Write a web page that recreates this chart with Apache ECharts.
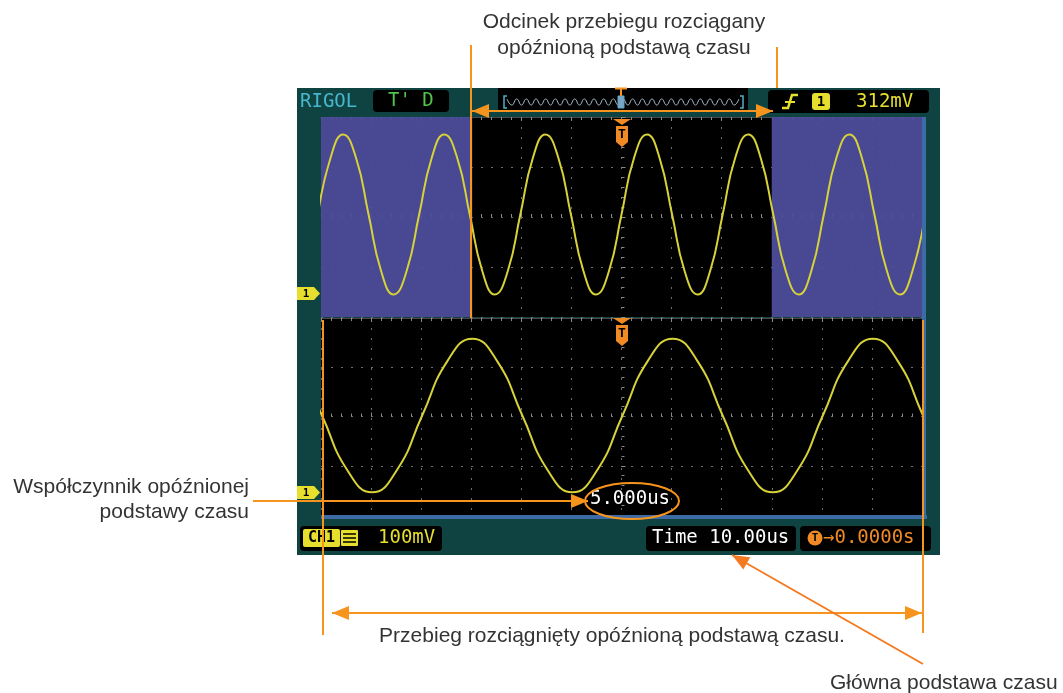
<!DOCTYPE html>
<html>
<head>
<meta charset="utf-8">
<script src="https://cdn.jsdelivr.net/npm/echarts@6/dist/echarts.min.js"></script>
<style>
html, body { margin: 0; padding: 0; background: #fff; }
#main { width: 1063px; height: 693px; }
</style>
</head>
<body>
<div id="main"></div>
<script>
// górne okno (przebieg opóźniony) - czas w działkach od środka, napięcie w działkach
var upperTime = [-6.06, -5.81, -5.56, -5.30, -5.05, -4.80, -4.55, -4.29, -4.04, -3.79, -3.54, -3.28,
    -3.03, -2.78, -2.53, -2.27, -2.02, -1.77, -1.52, -1.26, -1.01, -0.76, -0.51, -0.25, 0,
    0.25, 0.51, 0.76, 1.01, 1.26, 1.52, 1.77, 2.02, 2.27, 2.53, 2.78, 3.03, 3.28, 3.54, 3.79,
    4.04, 4.29, 4.55, 4.80, 5.05, 5.30, 5.56, 5.81, 6.06];
var upperVolt = [0.05, 1.18, 1.65, 1.18, 0.05, -1.08, -1.55, -1.08,
    0.05, 1.18, 1.65, 1.18, 0.05, -1.08, -1.55, -1.08,
    0.05, 1.18, 1.65, 1.18, 0.05, -1.08, -1.55, -1.08,
    0.05, 1.18, 1.65, 1.18, 0.05, -1.08, -1.55, -1.08,
    0.05, 1.18, 1.65, 1.18, 0.05, -1.08, -1.55, -1.08,
    0.05, 1.18, 1.65, 1.18, 0.05, -1.08, -1.55, -1.08, 0.05];

// dolne okno (przebieg rozciągnięty)
var lowerTime = [-6.48, -5.98, -5.48, -4.98, -4.48, -3.98, -3.48, -2.98, -2.48, -1.98, -1.48, -0.98,
    -0.48, 0.02, 0.52, 1.02, 1.52, 2.02, 2.52, 3.02, 3.52, 4.02, 4.52, 5.02, 5.52, 6.02, 6.52];
var lowerVolt = [1.12, 0.02, -1.08, -1.54, -1.08, 0.02, 1.12, 1.58, 1.12, 0.02, -1.08, -1.54,
    -1.08, 0.02, 1.12, 1.58, 1.12, 0.02, -1.08, -1.54, -1.08, 0.02, 1.12, 1.58, 1.12, 0.02, -1.08];

// podgląd pamięci na górnym pasku
var overviewWave = [1, -1, 1, -1, 1, -1, 1, -1, 1, -1, 1, -1, 1, -1, 1, -1, 1, -1, 1, -1, 1, -1, 1, -1,
    1, -1, 1, -1, 1, -1, 1, -1, 1, -1, 1, -1, 1, -1, 1, -1, 1, -1, 1, -1, 1, -1, 1, -1, 1];

// zacienione części górnego okna
var shadeLeft = [-6, -2.98];
var shadeRight = [3.0, 6];

var upperData = upperTime.map(function (t, i) { return [t, upperVolt[i]]; });
var lowerData = lowerTime.map(function (t, i) { return [t, lowerVolt[i]]; });
var overviewData = overviewWave.map(function (v, i) { return [i, v]; });

var ORANGE = '#f7941d';
var YELLOW = '#e6df2e';
var TRACE = '#d8d23a';
var SCOPE_FONT = '19px "DejaVu Sans Mono", monospace';
var NOTE_FONT = '21px "Liberation Sans", Arial, sans-serif';

function txt(x, y, s, fill, font, align)
{
    align = align || 'left';
    return {type: 'text', z: 100, style: {x: x, y: y, text: s, fill: fill, font: font,
        textAlign: align, align: align, textVerticalAlign: 'middle', verticalAlign: 'middle'}};
}
function box(x, y, w, h, fill, r, z)
{
    return {type: 'rect', z: z == null ? 50 : z, shape: {x: x, y: y, width: w, height: h, r: r || 0}, style: {fill: fill}};
}
function seg(x1, y1, x2, y2, color, w)
{
    return {type: 'line', z: 100, shape: {x1: x1, y1: y1, x2: x2, y2: y2}, style: {stroke: color, lineWidth: w || 2}};
}
function poly(points, fill, z)
{
    return {type: 'polygon', z: z || 100, shape: {points: points}, style: {fill: fill}};
}
// grot strzałki: wierzchołek (tx,ty), kierunek od (fx,fy)
function head(tx, ty, fx, fy, color)
{
    var dx = tx - fx, dy = ty - fy, len = Math.sqrt(dx * dx + dy * dy);
    dx /= len; dy /= len;
    var L = 17, W = 7, bx = tx - dx * L, by = ty - dy * L;
    return poly([[tx, ty], [bx - dy * W, by + dx * W], [bx + dy * W, by - dx * W]], color);
}
function arrow(x1, y1, x2, y2, color, both)
{
    var out = [seg(x1, y1, x2, y2, color, 2), head(x2, y2, x1, y1, color)];
    if (both) out.push(head(x1, y1, x2, y2, color));
    return out;
}
function chanMarker(y)
{
    return [poly([[297, y - 6.5], [314, y - 6.5], [320, y], [314, y + 6.5], [297, y + 6.5]], YELLOW, 60),
        txt(306, y + 0.5, '1', '#000', 'bold 11px "DejaVu Sans Mono"', 'center')];
}
function trigMarker(t)
{
    return [poly([[613, t], [631, t], [622, t + 6]], '#f08a24', 60),
        poly([[616, t + 7], [628, t + 7], [628, t + 23], [622, t + 28], [616, t + 23]], '#f08a24', 60),
        txt(622, t + 16, 'T', '#000', 'bold 13px "DejaVu Sans Mono"', 'center')];
}

var elements = [
    box(297, 88, 643, 467, '#0f4341', 0, -10),
    box(321, 515, 606, 4, '#3d6ba6', 0, 5),
    box(922, 117, 4, 402, '#3d6ba6', 0, 5),

    // górny pasek
    txt(300, 102, 'RIGOL', '#47b6cf', SCOPE_FONT),
    box(373, 90, 76, 22, '#000', 4),
    txt(388, 101, "T' D", '#52c24b', SCOPE_FONT),
    box(498, 88, 250, 24, '#000', [0, 0, 4, 4], -5),
    {type: 'polyline', z: 60, shape: {points: [[507, 96], [504, 96], [504, 108], [507, 108]]}, style: {stroke: '#52b0c8', lineWidth: 1.5, fill: null}},
    {type: 'polyline', z: 60, shape: {points: [[740, 96], [743, 96], [743, 108], [740, 108]]}, style: {stroke: '#52b0c8', lineWidth: 1.5, fill: null}},
    {type: 'rect', z: 60, shape: {x: 618, y: 96, width: 6, height: 12}, style: {fill: '#7fa3c4', stroke: '#52b0c8'}},
    seg(615, 88.5, 627, 88.5, ORANGE, 2),
    seg(621, 88, 621, 96, ORANGE, 2),
    box(768, 90, 161, 23, '#000', 4),
    {type: 'polyline', z: 60, shape: {points: [[782, 108], [788, 108], [792, 95], [798, 95]]}, style: {stroke: YELLOW, lineWidth: 2.5, fill: null}},
    seg(785, 102, 795, 102, YELLOW, 2),
    box(812, 93, 18, 17, YELLOW, 3, 60),
    txt(821, 102, '1', '#000', 'bold 14px "DejaVu Sans Mono"', 'center'),
    txt(856, 102, '312mV', YELLOW, SCOPE_FONT),

    // dolny pasek
    box(300, 526, 142, 25, '#000', 4),
    box(303, 529, 37, 18, YELLOW, 2, 60),
    txt(321.5, 538, 'CH1', '#000', 'bold 15px "DejaVu Sans Mono"', 'center'),
    box(341, 530, 17, 16, YELLOW, 1, 60),
    seg(343, 534, 356, 534, '#000', 1.5),
    seg(343, 538, 356, 538, '#000', 1.5),
    seg(343, 542, 356, 542, '#000', 1.5),
    txt(378, 538, '100mV', YELLOW, SCOPE_FONT),
    box(646, 526, 150, 25, '#000', 4),
    txt(652, 538, 'Time 10.00us', '#fff', SCOPE_FONT),
    box(800, 526, 131, 25, '#000', 4),
    {type: 'circle', z: 60, shape: {cx: 815, cy: 538, r: 7.5}, style: {fill: '#f08a24'}},
    txt(815, 538.5, 'T', '#000', 'bold 11px "DejaVu Sans Mono"', 'center'),
    txt(823, 538, '\u21920.0000s', '#f08a24', SCOPE_FONT),

    // napis i elipsa na ekranie
    txt(630, 499, '5.000us', '#fff', SCOPE_FONT, 'center'),
    {type: 'ellipse', z: 100, shape: {cx: 632, cy: 501, rx: 47, ry: 18}, style: {fill: null, stroke: ORANGE, lineWidth: 2}},

    // opisy
    txt(624, 22, 'Odcinek przebiegu rozciągany', '#333', NOTE_FONT, 'center'),
    txt(624, 48, 'opóźnioną podstawą czasu', '#333', NOTE_FONT, 'center'),
    txt(249, 487, 'Współczynnik opóźnionej', '#333', NOTE_FONT, 'right'),
    txt(249, 512, 'podstawy czasu', '#333', NOTE_FONT, 'right'),
    txt(612, 636, 'Przebieg rozciągnięty opóźnioną podstawą czasu.', '#333', NOTE_FONT, 'center'),
    txt(830, 683, 'Główna podstawa czasu', '#333', NOTE_FONT),

    seg(471, 45, 471, 318, ORANGE, 2),
    seg(777, 47, 777, 88, ORANGE, 2),
    seg(323, 320, 323, 635, ORANGE, 2),
    seg(923, 320, 923, 633, ORANGE, 2)
];
elements = elements
    .concat(chanMarker(293.5), chanMarker(492.5), trigMarker(119), trigMarker(318))
    .concat(arrow(472, 111, 773, 111, ORANGE, true))
    .concat(arrow(332, 613, 922, 613, ORANGE, true))
    .concat(arrow(253, 501, 588, 501, ORANGE, false))
    .concat(arrow(923, 664, 732, 555, '#f47a22', false));

var tickStyle = {color: '#8a8a8a'};
var dotted = {show: true, lineStyle: {color: '#6e6e6e', type: [2, 8]}};

function divX(grid, pos, onZero, split)
{
    return {
        gridIndex: grid, type: 'value', min: -6, max: 6, interval: 1, position: pos,
        axisLine: {show: !onZero, onZero: onZero, lineStyle: {color: '#4a4a4a'}},
        axisTick: {show: true, inside: true, length: 4, lineStyle: tickStyle},
        minorTick: {show: true, splitNumber: 5, length: 3, lineStyle: tickStyle},
        axisLabel: {show: false},
        splitLine: split ? dotted : {show: false}
    };
}
function divY(grid)
{
    return {
        gridIndex: grid, type: 'value', min: -2, max: 2, interval: 1,
        axisLine: {show: false, onZero: true},
        axisTick: {show: true, inside: true, length: 4, lineStyle: tickStyle},
        minorTick: {show: true, splitNumber: 5, length: 3, lineStyle: tickStyle},
        axisLabel: {show: false},
        splitLine: dotted
    };
}

var myChart = echarts.init(document.getElementById('main'));
var option = {
    animation: false,
    backgroundColor: '#fff',
    grid: [
        {left: 321, top: 117, width: 601, height: 200, show: true, backgroundColor: '#000', borderWidth: 0},
        {left: 321, top: 318, width: 601, height: 197, show: true, backgroundColor: '#000', borderWidth: 0},
        {left: 507, top: 98, width: 232, height: 8}
    ],
    xAxis: [
        divX(0, 'bottom', true, true),
        divX(0, 'top', false, false),
        divX(1, 'bottom', true, true),
        divX(1, 'top', false, false),
        {gridIndex: 2, type: 'value', min: 0, max: overviewWave.length - 1, show: false}
    ],
    yAxis: [
        divY(0),
        divY(1),
        {gridIndex: 2, type: 'value', min: -1.3, max: 1.3, show: false}
    ],
    series: [
        {
            type: 'line', xAxisIndex: 0, yAxisIndex: 0, data: upperData,
            smooth: 0.5, symbol: 'none', lineStyle: {color: TRACE, width: 2},
            markArea: {
                silent: true,
                itemStyle: {color: 'rgba(76,76,156,0.94)'},
                data: [[{xAxis: shadeLeft[0]}, {xAxis: shadeLeft[1]}], [{xAxis: shadeRight[0]}, {xAxis: shadeRight[1]}]]
            }
        },
        {
            type: 'line', xAxisIndex: 2, yAxisIndex: 1, data: lowerData,
            smooth: 0.5, symbol: 'none', lineStyle: {color: TRACE, width: 2}
        },
        {
            type: 'line', xAxisIndex: 4, yAxisIndex: 2, data: overviewData, z: 20,
            smooth: 0.5, symbol: 'none', lineStyle: {color: '#a3b5c4', width: 1}
        }
    ],
    graphic: {elements: elements}
};

if (option && typeof option === 'object') {
    myChart.setOption(option);
}
</script>
</body>
</html>
